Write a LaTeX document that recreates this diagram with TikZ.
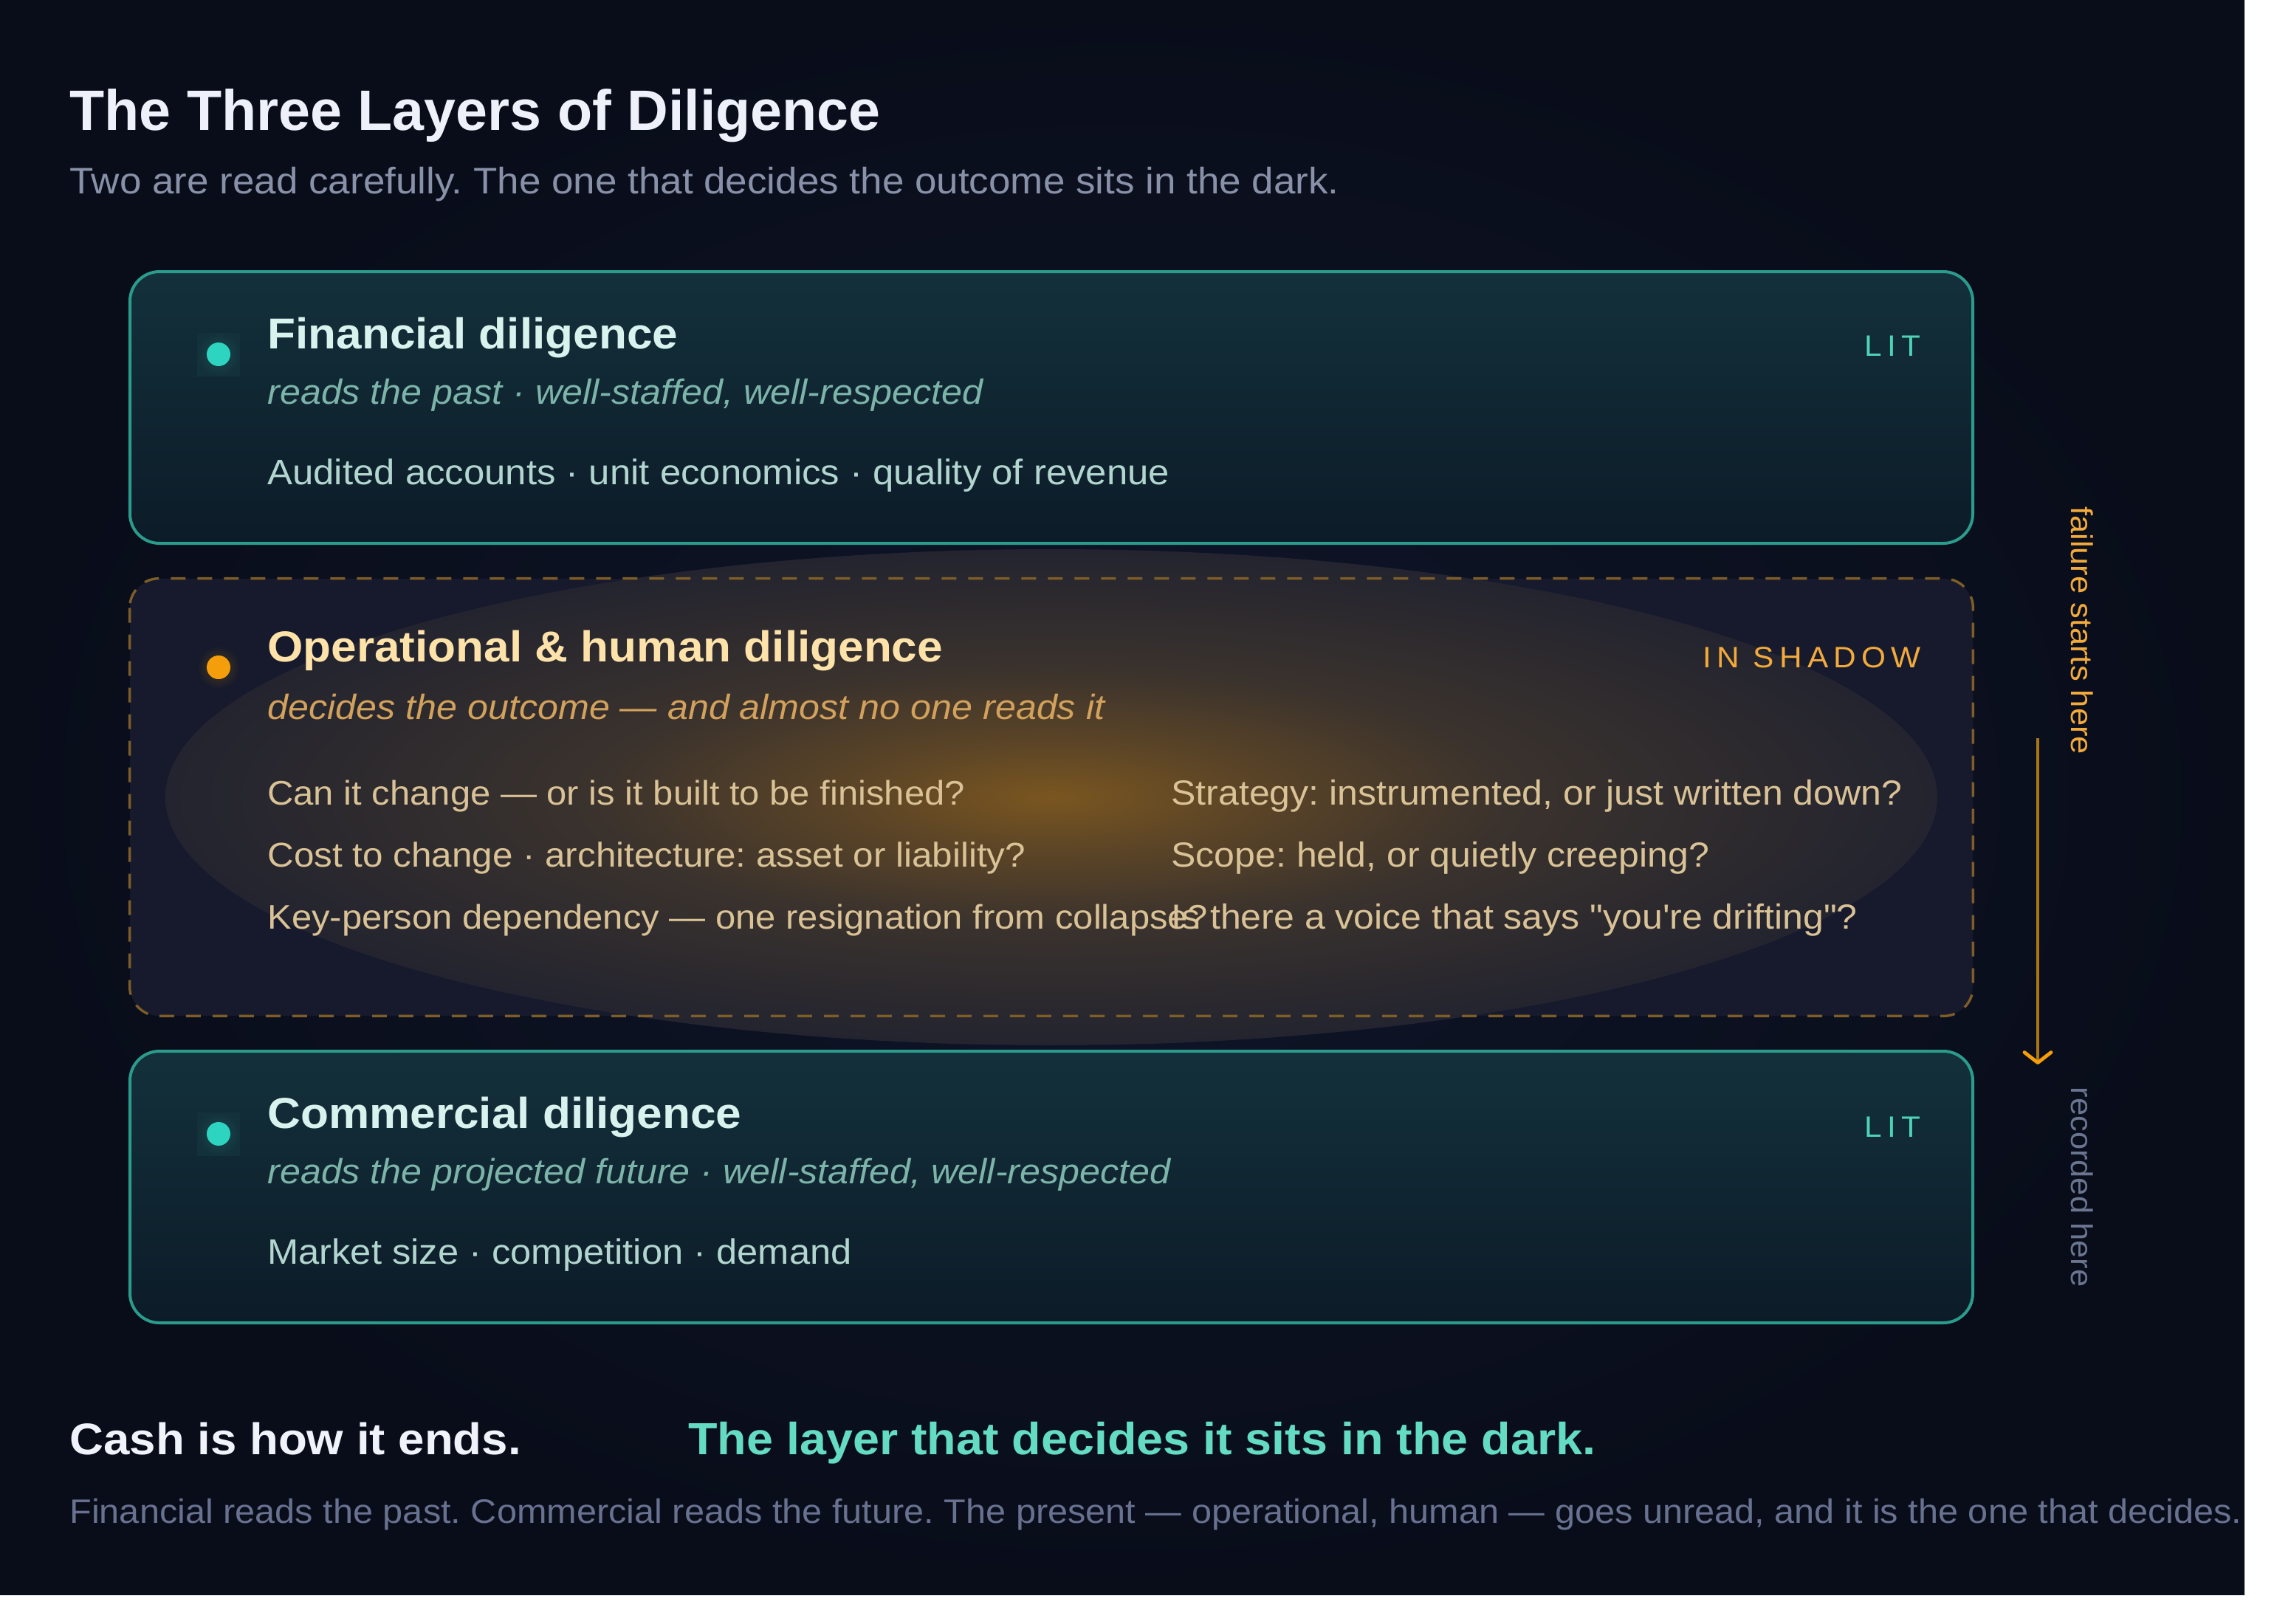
\documentclass[tikz,border=0pt]{standalone}
\usepackage{fontspec}
\setmainfont{Liberation Sans}[Ligatures=TeXOff, FakeStretch=1.06]
\newfontfamily\titlefont{Liberation Sans}[Ligatures=TeXOff]
\newfontfamily\spacedfont{Liberation Sans}[Ligatures=TeXOff, FakeStretch=1.06, LetterSpace=18]
\usetikzlibrary{arrows.meta}
\newcommand{\setfs}[1]{\fontsize{#1}{#1}\selectfont}
\frenchspacing

\definecolor{bgC}{HTML}{10162A}
\definecolor{bgE}{HTML}{090D1A}
\definecolor{titleC}{HTML}{EEF1FA}
\definecolor{subC}{HTML}{8891A8}
\definecolor{tealB}{HTML}{2B9C8C}
\definecolor{boxTop}{HTML}{13313B}
\definecolor{boxBot}{HTML}{0C1B28}
\definecolor{tealDot}{HTML}{2DD4BF}
\definecolor{tealGlow}{HTML}{1B4A50}
\definecolor{tealTitle}{HTML}{D8F3EE}
\definecolor{tealItal}{HTML}{7DB4AA}
\definecolor{tealBody}{HTML}{B2D6CF}
\definecolor{tealLab}{HTML}{4ED2B6}
\definecolor{boxTwo}{HTML}{171A2C}
\definecolor{dashC}{HTML}{7D5D28}
\definecolor{amberDot}{HTML}{F59E0B}
\definecolor{amberGlow}{HTML}{4A3A1F}
\definecolor{amberTitle}{HTML}{FDE2A9}
\definecolor{amberItal}{HTML}{D2A15C}
\definecolor{amberBody}{HTML}{D9C296}
\definecolor{amberLab}{HTML}{F2AA3C}
\definecolor{amberLine}{HTML}{A87519}
\definecolor{grayLab}{HTML}{6A7590}
\definecolor{cashC}{HTML}{F0F3FA}
\definecolor{tealBold}{HTML}{64DCC1}
\definecolor{paraC}{HTML}{687290}
\definecolor{ellC}{HTML}{7A5620}
\definecolor{ellA}{HTML}{5E4626}
\definecolor{ellB}{HTML}{3A322D}
\definecolor{ellE}{HTML}{23242F}

\pgfdeclareradialshading{bgglow}{\pgfpoint{0bp}{0bp}}{color(0bp)=(bgC); color(25bp)=(bgE); color(50bp)=(bgE)}
\pgfdeclareradialshading{amberglow}{\pgfpoint{0bp}{0bp}}{color(0bp)=(ellC); color(5bp)=(ellA); color(13bp)=(ellB); color(25bp)=(ellE); color(50bp)=(ellE)}

\begin{document}
\begin{tikzpicture}[x=1pt,y=-1pt,
  txt/.style={inner sep=0pt, anchor=base west},
  rtxt/.style={inner sep=0pt, anchor=base east},
  litbox/.style={draw=tealB, line width=2pt, rounded corners=20pt, top color=boxTop, bottom color=boxBot, minimum width=1248pt, minimum height=184pt, inner sep=0pt},
  shadowbox/.style={fill=boxTwo, rounded corners=20pt, minimum width=1248pt, minimum height=296pt, inner sep=0pt},
  dashborder/.style={draw=dashC, line width=1.7pt, dash pattern=on 10pt off 8pt, rounded corners=20pt},
  dotglow/.style={rectangle, minimum size=29pt, inner sep=0pt},
  dotc/.style={circle, minimum size=16pt, inner sep=0pt},
  boxtitle/.style={txt, font={\bfseries\setfs{29.3}}},
  boxital/.style={txt, font={\itshape\setfs{23.7}}},
  boxbody/.style={txt, font={\setfs{#1}}},
  boxbody/.default=23.6,
  lablit/.style={rtxt, font={\spacedfont\setfs{20}}},
  sidelab/.style={inner sep=0pt, rotate=-90, font={\setfs{20.5}}},
  arrowline/.style={draw=amberLine, line width=2.2pt, -{Straight Barb[length=7pt, width=18pt, color=amberDot, line width=2.4pt, round]}}
]
\useasboundingbox (0,0) rectangle (1540,1100);
\fill[white] (0,0) rectangle (1540,1100);
\shade[shading=bgglow] (0,0) rectangle (1520,1080);

% title
\node[txt, font={\titlefont\bfseries\setfs{38.6}}, text=titleC] (title) at (47,88) {The Three Layers of Diligence};
\node[txt, font={\setfs{25}}, text=subC] (subtitle) at (47,131) {Two are read carefully. The one that decides the outcome sits in the dark.};

% operational box (drawn first, glow overflows)
\node[shadowbox] (op) at (712,540) {};
\shade[shading=amberglow] (op.center) ellipse [x radius=600pt, y radius=168pt];
\draw[dashborder] (op.north west) rectangle (op.south east);

% financial box
\node[litbox] (fin) at (712,276) {};
% commercial box
\node[litbox] (com) at (712,804) {};

% financial contents
\node[dotglow, inner color=tealGlow, outer color=boxTop] (finglow) at (148,240) {};
\node[dotc, fill=tealDot] (findot) at (148,240) {};
\node[boxtitle, text=tealTitle] (fintitle) at (181,236) {Financial diligence};
\node[boxital, text=tealItal] (finsub) at (181,273.5) {reads the past · well-staffed, well-respected};
\node[boxbody=24, text=tealBody] (finbody) at (181,328) {Audited accounts · unit economics · quality of revenue};
\node[lablit, text=tealLab] (finlit) at (1301,241) {LIT};

% operational contents
\node[dotglow, inner color=amberGlow, outer color=boxTwo] (opglow) at (148,452) {};
\node[dotc, fill=amberDot] (opdot) at (148,452) {};
\node[boxtitle, text=amberTitle] (optitle) at (181,448) {Operational \& human diligence};
\node[boxital, text=amberItal] (opsub) at (181,487) {decides the outcome — and almost no one reads it};
\node[boxbody=23.1, text=amberBody] (opl1) at (181,545) {Can it change — or is it built to be finished?};
\node[boxbody=23.3, text=amberBody] (opl2) at (181,587) {Cost to change · architecture: asset or liability?};
\node[boxbody=23.1, text=amberBody] (opl3) at (181,629) {Key-person dependency — one resignation from collapse?};
\node[boxbody, text=amberBody] (opr1) at (793,545) {Strategy: instrumented, or just written down?};
\node[boxbody, text=amberBody] (opr2) at (793,587) {Scope: held, or quietly creeping?};
\node[boxbody, text=amberBody] (opr3) at (793,629) {Is there a voice that says "you're drifting"?};
\node[lablit, text=amberLab] (oplab) at (1301,452) {IN SHADOW};

% commercial contents
\node[dotglow, inner color=tealGlow, outer color=boxTop] (comglow) at (148,768) {};
\node[dotc, fill=tealDot] (comdot) at (148,768) {};
\node[boxtitle, text=tealTitle] (comtitle) at (181,764) {Commercial diligence};
\node[boxital, text=tealItal] (comsub) at (181,801.5) {reads the projected future · well-staffed, well-respected};
\node[boxbody=23.9, text=tealBody] (combody) at (181,856) {Market size · competition · demand};
\node[lablit, text=tealLab] (comlit) at (1301,770) {LIT};

% side arrow and labels
\coordinate (arrtop) at (1380,500);
\coordinate (arrtip) at (1380,721);
\draw[arrowline] (arrtop) -- (arrtip);
\node[sidelab, text=amberLab] (failtxt) at (1410,427) {failure starts here};
\node[sidelab, text=grayLab] (rectxt) at (1410,804) {recorded here};

% bottom
\node[txt, font={\bfseries\setfs{30}}, text=cashC] (cash) at (47,985) {Cash is how it ends.};
\node[txt, font={\bfseries\setfs{30.5}}, text=tealBold] (darkline) at (466,985) {The layer that decides it sits in the dark.};
\node[txt, font={\setfs{22.95}}, text=paraC] (para) at (47,1031.5) {Financial reads the past. Commercial reads the future. The present — operational, human — goes unread, and it is the one that decides.};
\end{tikzpicture}
\end{document}
